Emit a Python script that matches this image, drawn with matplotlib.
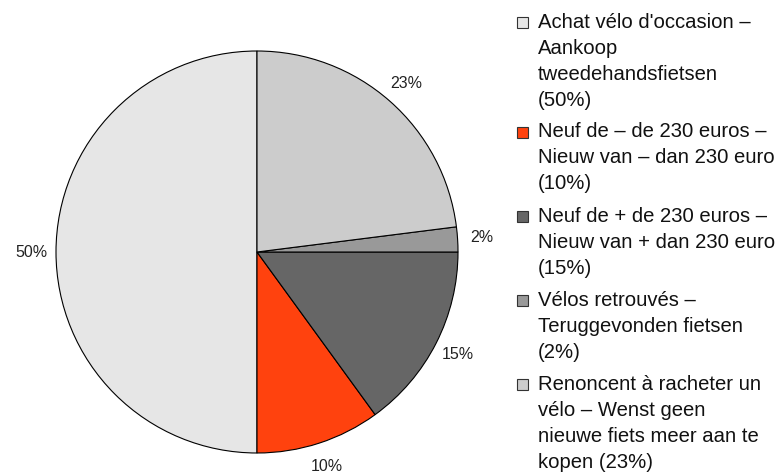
import matplotlib.pyplot as plt
from matplotlib.patches import Rectangle

# Dati
valori = [50, 10, 15, 2, 23]
etichette_pct = ['50%', '10%', '15%', '2%', '23%']
colori = ['#e6e6e6', '#ff420e', '#666666', '#999999', '#cccccc']
legenda = [
    ["Achat vélo d'occasion –", "Aankoop", "tweedehandsfietsen", "(50%)"],
    ["Neuf de – de 230 euros –", "Nieuw van – dan 230 euro", "(10%)"],
    ["Neuf de + de 230 euros –", "Nieuw van + dan 230 euro", "(15%)"],
    ["Vélos retrouvés –", "Teruggevonden fietsen", "(2%)"],
    ["Renoncent à racheter un", "vélo – Wenst geen", "nieuwe fiets meer aan te", "kopen (23%)"],
]

plt.rcParams['font.family'] = ['Liberation Sans', 'DejaVu Sans']

W, H = 778, 474
fig = plt.figure(figsize=(W / 100, H / 100), dpi=100)
ax = fig.add_axes([56 / W, (H - 453) / H, 402 / W, 402 / H])

wedges, testi = ax.pie(valori, labels=etichette_pct, colors=colori, startangle=90,
                       counterclock=True, labeldistance=1.12,
                       wedgeprops=dict(edgecolor='black', linewidth=0.8),
                       textprops=dict(fontsize=11.5, color='#222222'))
for t in testi:
    t.set_ha('center')
    t.set_va('center')
ax.set_xlim(-1, 1)
ax.set_ylim(-1, 1)
ax.set_aspect('equal')

# Legenda manuale
y = 22
passo = 26
for col, righe in zip(colori, legenda):
    fig.patches.append(Rectangle((517 / W, 1 - (y + 6) / H), 11 / W, 11 / H,
                                 transform=fig.transFigure, facecolor=col,
                                 edgecolor='#333333', linewidth=0.8))
    for i, r in enumerate(righe):
        fig.text(538 / W, 1 - (y + i * passo) / H, r, fontsize=14.6,
                 ha='left', va='center', color='#111111')
    y += len(righe) * passo + 6

plt.savefig('out.png', dpi=100)
